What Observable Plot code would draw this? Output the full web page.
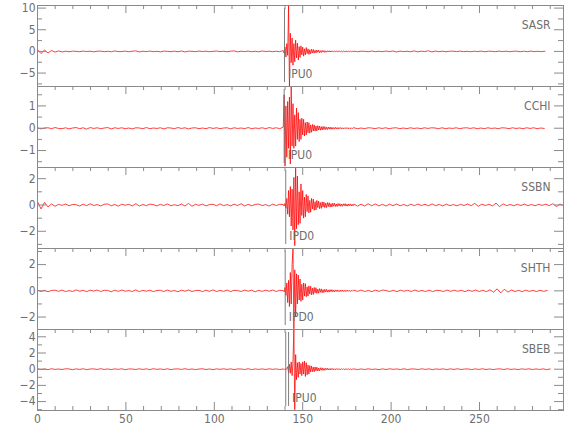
<!DOCTYPE html>
<html>
<head>
<meta charset="utf-8">
<script src="https://cdn.jsdelivr.net/npm/d3@7"></script>
<script src="https://cdn.jsdelivr.net/npm/@observablehq/plot@0.6"></script>
<style>
  body { margin: 0; background: #fff; }
  #chart { position: relative; width: 580px; height: 440px; }
  #chart svg { position: absolute; left: 0; overflow: visible; }
</style>
</head>
<body>
<div id="chart"></div>
<script>
// ---- data ----
const stations = ["SASR", "CCHI", "SSBN", "SHTH", "SBEB"];
const pickLabels = ["IPU0", "IPU0", "IPD0", "IPD0", "IPU0"];
const markerTimes = [[139.7], [139.5], [140.4], [140.1], [140.4, 142.0]];
const traceEnds = [287, 286.6, 297.5, 288.3, 290];
const xDomain = [0, 297.5];
const xMajor = [0, 50, 100, 150, 200, 250];
const xMinor = [10, 20, 30, 40, 60, 70, 80, 90, 110, 120, 130, 140, 160, 170, 180, 190, 210, 220, 230, 240, 260, 270, 280, 290];
const yDomains = [[-8.1, 10.6], [-1.76, 1.87], [-3.31, 2.85], [-2.95, 3.23], [-5.1, 4.9]];
const yMajor = [[-5, 0, 5, 10], [-1, 0, 1], [-2, 0, 2], [-2, 0, 2], [-4, -2, 0, 2, 4]];
const yMinor = [[-7.5, -2.5, 2.5, 7.5], [-1.5, -0.5, 0.5, 1.5], [-3, -1, 1], [-1, 1, 3], [-5, -3, -1, 1, 3]];
const eventStart = 139;
const eventStep = 0.5;

// pre-event noise (evenly sampled from 0 to event start)
const sasrPre = [0.4,-0.5,0.3,-0.35,0.2,-0.15,0.1,-0.12,0.05,-0.08,0.06,0.02,-0.07,0.08,-0.03,0.05,-0.09,0.04,0.07,-0.06,0.03,-0.08,0.1,-0.04,-0.02,0.06,-0.07,0.05,0.12,-0.1,0.04,-0.05,0.08,-0.06,0.02,-0.09,0.07,0.03,-0.05,0.06,-0.08,0.1,-0.12,0.05,0.03,-0.06,0.08,-0.04,0.06,-0.07,0.02,0.09,-0.05,0.04,-0.08,0.06,0.12,-0.1,0.05,-0.04,0.07,-0.06,0.03,-0.08,0.09,-0.03,0.05,-0.07,0.04,-0.05];
const cchiPre = [0.02,-0.03,0.01,0.02,-0.02,0.03,-0.01,-0.02,0.02,-0.03,0.01,0.03,-0.02,0.02,-0.04,0.03,-0.01,0.02,-0.02,0.01,0.03,-0.03,0.02,-0.01,0.02,-0.02,0.01,-0.03,0.02,0.01,-0.02,0.03,-0.02,0.01,-0.01,0.02,-0.03,0.02,0.01,-0.02,0.03,-0.01,0.02,-0.03,0.01,0.02,-0.02,0.01,-0.02,0.03,-0.01,0.02,-0.02,0.01,0.02,-0.03,0.02,-0.01,0.01,-0.02,0.03,-0.02,0.01,-0.01,0.02,-0.02,0.03,-0.01,0.02,-0.02];
const ssbnPre = [0.25,-0.3,0.2,-0.15,0.08,-0.1,0.05,-0.03,0.07,-0.06,0.04,0.02,-0.08,0.06,-0.05,0.09,-0.04,0.03,-0.07,0.05,0.08,-0.06,0.04,-0.09,0.06,-0.02,0.05,-0.07,0.1,-0.08,0.04,-0.05,0.06,0.03,-0.07,0.05,-0.04,0.08,-0.06,0.02,-0.05,0.07,-0.08,0.12,-0.1,0.05,-0.03,0.06,-0.07,0.04,0.05,-0.06,0.08,-0.05,0.03,-0.07,0.06,-0.04,0.09,-0.08,0.05,-0.06,0.04,0.07,-0.05,0.03,-0.08,0.06,-0.04,0.05];
const shthPre = [0.06,-0.05,0.04,-0.07,0.03,0.05,-0.04,0.06,-0.06,0.02,-0.05,0.07,-0.03,0.04,-0.06,0.05,-0.02,0.06,-0.05,0.04,0.03,-0.07,0.05,-0.04,0.06,-0.03,0.02,-0.05,0.07,-0.06,0.04,-0.03,0.05,-0.06,0.03,0.04,-0.05,0.06,-0.04,0.03,-0.07,0.05,-0.03,0.06,-0.05,0.02,0.04,-0.06,0.05,-0.04,0.07,-0.05,0.03,-0.04,0.06,-0.06,0.04,0.02,-0.05,0.06,-0.03,0.05,-0.07,0.04,-0.04,0.05,-0.03,0.06,-0.05,0.04];
const sbebPre = [0.05,-0.04,0.03,-0.05,0.06,-0.03,0.02,-0.04,0.05,0.03,-0.06,0.04,-0.03,0.05,-0.05,0.02,0.04,-0.04,0.06,-0.03,0.03,-0.05,0.04,-0.02,0.05,-0.06,0.03,0.02,-0.04,0.05,-0.03,0.04,-0.05,0.06,-0.02,0.03,-0.04,0.05,-0.05,0.02,0.04,-0.03,0.06,-0.04,0.03,-0.05,0.02,0.05,-0.04,0.03,-0.06,0.04,-0.02,0.05,-0.03,0.04,-0.05,0.03,0.02,-0.04,0.06,-0.05,0.03,-0.03,0.04,-0.04,0.05,-0.02,0.03,-0.04];

// event (0.5 s samples from 139 s)
const sasrEvent = [0.2,-0.4,1.0,-1.3,1.8,-0.9,10.5,-8.0,4.2,-2.6,3.1,-3.2,1.8,-2.4,2.6,-1.5,1.9,-2.0,1.1,-1.4,1.3,-0.8,1.0,-1.1,0.6,-0.8,0.9,-0.5,0.6,-0.7,0.4,-0.55,0.5,-0.35,0.45,-0.4,0.25,-0.35,0.32,-0.2,0.28,-0.3,0.18,-0.25,0.22,-0.15,0.2,-0.22,0.12,-0.18,0.16,-0.12,0.15,-0.14,0.1,-0.13,0.12,-0.08,0.11,-0.1,0.08,-0.11,0.09,-0.06,0.1,-0.08,0.07,-0.09,0.08,-0.06,0.07,-0.08,0.06,-0.07,0.08,-0.05,0.06,-0.07,0.05,-0.06];
const cchiEvent = [0.05,1.5,-1.7,1.0,-1.3,1.2,-0.9,1.4,-1.6,1.85,-0.8,1.1,-0.9,0.6,-0.8,0.9,-0.5,0.7,-0.6,0.4,-0.5,0.45,-0.3,0.4,-0.35,0.25,-0.3,0.28,-0.2,0.25,-0.22,0.15,-0.18,0.17,-0.12,0.15,-0.13,0.1,-0.12,0.11,-0.08,0.1,-0.09,0.07,-0.08,0.08,-0.06,0.07,-0.06,0.05,-0.06,0.05,-0.04,0.05,-0.05,0.04,-0.04,0.03,-0.04,0.04,-0.03,0.03,-0.04,0.03,-0.02,0.03,-0.03,0.02,-0.03,0.02,-0.02,0.03,-0.02,0.02,-0.03,0.02,-0.02,0.02,-0.02,0.02];
const ssbnEvent = [0.03,-0.08,0.12,-0.25,0.5,-0.7,1.1,-0.9,1.4,-1.6,1.2,-1.9,2.1,-3.1,2.8,-1.8,2.2,-1.5,1.0,-1.4,1.6,-0.8,1.1,-1.0,0.6,-0.9,0.8,-0.5,0.7,-0.6,0.35,-0.55,0.5,-0.3,0.45,-0.4,0.25,-0.38,0.35,-0.2,0.3,-0.28,0.18,-0.26,0.24,-0.15,0.22,-0.2,0.14,-0.2,0.18,-0.12,0.17,-0.16,0.1,-0.15,0.14,-0.09,0.13,-0.12,0.08,-0.12,0.11,-0.07,0.1,-0.1,0.07,-0.1,0.09,-0.06,0.1,-0.08,0.06,-0.09,0.08,-0.05,0.08,-0.07,0.05,-0.07];
const shthEvent = [0.03,-0.08,0.25,-0.35,0.6,-0.9,0.8,-1.2,1.4,-1.0,2.0,3.2,-2.9,1.6,-2.0,1.3,-1.0,1.2,-0.7,0.9,-0.8,0.5,-0.7,0.6,-0.4,0.55,-0.45,0.3,-0.4,0.38,-0.25,0.35,-0.3,0.2,-0.28,0.26,-0.16,0.24,-0.2,0.13,-0.18,0.17,-0.11,0.15,-0.14,0.09,-0.13,0.12,-0.08,0.11,-0.1,0.07,-0.1,0.09,-0.06,0.09,-0.08,0.05,-0.08,0.07,-0.05,0.07,-0.06,0.04,-0.06,0.06,-0.04,0.06,-0.05,0.04,-0.05,0.05,-0.04,0.05,-0.04,0.03,-0.05,0.04,-0.03,0.04];
const sbebEvent = [0.03,-0.04,0.03,-0.03,0.05,0.3,-0.45,0.6,-0.5,0.9,-0.8,1.0,4.9,-5.0,1.8,-1.3,0.8,-1.0,0.9,-0.6,0.7,-0.8,0.9,-0.6,1.0,-0.9,0.8,-0.7,0.5,-0.6,0.45,-0.35,0.4,-0.3,0.25,-0.32,0.28,-0.2,0.25,-0.22,0.15,-0.2,0.18,-0.12,0.17,-0.15,0.1,-0.14,0.12,-0.09,0.12,-0.1,0.07,-0.1,0.09,-0.06,0.09,-0.08,0.05,-0.08,0.07,-0.05,0.07,-0.06,0.04,-0.06,0.06,-0.04,0.06,-0.05,0.04,-0.05,0.05,-0.04,0.05,-0.04,0.03,-0.05,0.04,-0.03];

// late coda / post-event noise (evenly sampled to trace end)
const sasrCoda = [0.06,-0.08,0.05,0.03,-0.07,0.09,-0.05,0.04,-0.06,0.08,-0.04,0.1,-0.12,0.07,-0.05,0.03,-0.08,0.12,-0.09,0.06,-0.04,0.15,-0.12,0.08,-0.06,0.05,-0.07,0.04,0.06,-0.05,0.08,-0.06,0.03,-0.07,0.05,-0.04,0.06,-0.08,0.05,0.02,-0.06,0.07,-0.04,0.05,-0.06,0.03,0.05,-0.07,0.04,-0.05,0.06,-0.04,0.03,-0.05,0.04];
const cchiCoda = [0.02,-0.02,0.01,-0.02,0.02,0.01,-0.02,0.02,-0.01,0.02,-0.02,0.01,0.02,-0.02,0.01,-0.02,0.02,-0.01,0.01,-0.02,0.02,-0.01,0.02,0.01,-0.02,0.02,-0.02,0.01,-0.01,0.02,-0.02,0.01,0.02,-0.01,0.02,-0.02,0.01,-0.02,0.02,-0.01,0.01,-0.02,0.02,0.01,-0.02,0.02,-0.01,0.01,-0.02,0.02,-0.01,0.02,-0.02,0.01,-0.01];
const ssbnCoda = [0.07,-0.09,0.06,-0.08,0.09,-0.06,0.08,-0.07,0.05,-0.08,0.06,-0.05,0.07,-0.06,0.04,-0.07,0.06,-0.05,0.07,-0.04,0.05,-0.06,0.08,-0.05,0.04,-0.07,0.06,-0.05,0.03,-0.06,0.05,-0.04,0.07,-0.05,0.12,-0.1,0.06,-0.04,0.05,-0.07,0.14,-0.12,0.08,-0.05,0.04,-0.06,0.05,-0.04,0.06,-0.05,0.04,-0.06,0.05,-0.03,0.06,-0.05,0.1,-0.12,0.07,-0.05];
const shthCoda = [0.05,-0.04,0.06,-0.05,0.03,-0.06,0.05,-0.04,0.06,0.02,-0.05,0.04,-0.06,0.05,-0.03,0.04,-0.05,0.06,-0.04,0.03,-0.05,0.05,-0.06,0.04,0.02,-0.05,0.06,-0.04,0.05,-0.03,0.04,-0.06,0.05,-0.04,0.06,-0.05,0.04,-0.06,0.08,-0.1,0.15,-0.16,0.12,-0.09,0.06,-0.05,0.04,-0.06,0.05,-0.04,0.03,-0.05,0.04,-0.04,0.03];
const sbebCoda = [0.04,-0.05,0.03,-0.04,0.05,-0.03,0.02,-0.05,0.04,-0.04,0.05,-0.02,0.03,-0.04,0.05,-0.05,0.03,0.02,-0.04,0.05,-0.03,0.04,-0.05,0.03,-0.02,0.04,-0.05,0.04,-0.03,0.05,-0.04,0.02,0.03,-0.05,0.04,-0.03,0.05,-0.04,0.03,-0.05,0.02,0.04,-0.04,0.05,-0.03,0.03,-0.05,0.04,-0.02,0.05,-0.04,0.03,-0.03,0.04,-0.05,0.03];

const preSets = [sasrPre, cchiPre, ssbnPre, shthPre, sbebPre];
const eventSets = [sasrEvent, cchiEvent, ssbnEvent, shthEvent, sbebEvent];
const codaSets = [sasrCoda, cchiCoda, ssbnCoda, shthCoda, sbebCoda];

// ---- layout ----
const W = 580, ML = 37, MR = 17, PANEL_H = 81, TOP = 5, BOTTOM_M = 30;
const plotW = W - ML - MR;
const axisGray = "#8a8a8a";
const textGray = "#6e6e6e";
const font = "'Liberation Sans Narrow', 'DejaVu Sans Condensed', 'Liberation Sans', sans-serif";

function buildTrace(pre, ev, coda, end) {
  const pts = [];
  pre.forEach((v, i) => pts.push({t: i * eventStart / pre.length, v}));
  ev.forEach((v, i) => pts.push({t: eventStart + i * eventStep, v}));
  const cs = eventStart + ev.length * eventStep;
  coda.forEach((v, i) => pts.push({t: cs + i * (end - cs) / (coda.length - 1), v}));
  return pts;
}

const chart = document.getElementById("chart");
stations.forEach((name, i) => {
  const isLast = i === stations.length - 1;
  const mb = isLast ? BOTTOM_M : 0;
  const trace = buildTrace(preSets[i], eventSets[i], codaSets[i], traceEnds[i]);
  const marks = [
    Plot.lineY(trace, {x: "t", y: "v", stroke: "#ff0000", strokeWidth: 0.75}),
    Plot.ruleX(markerTimes[i], {stroke: "#707070", strokeWidth: 0.9, insetTop: 3, insetBottom: 4}),
    Plot.text([pickLabels[i]], {x: () => markerTimes[i][markerTimes[i].length - 1], frameAnchor: "bottom", textAnchor: "start", lineAnchor: "bottom", dx: 3.5, dy: -9, fill: textGray, text: d => d}),
    Plot.text([name], {frameAnchor: "top-right", textAnchor: "end", lineAnchor: "top", dx: -13, dy: 15, fill: textGray, text: d => d}),
    Plot.frame({stroke: axisGray}),
    // x ticks along the top, pointing inward
    Plot.ruleX(xMajor, {stroke: axisGray, insetBottom: PANEL_H - 8}),
    Plot.ruleX(xMinor, {stroke: axisGray, insetBottom: PANEL_H - 4}),
    // y ticks on left and right, pointing inward
    Plot.ruleY(yMajor[i], {stroke: axisGray, insetRight: plotW - 9}),
    Plot.ruleY(yMinor[i], {stroke: axisGray, insetRight: plotW - 5}),
    Plot.ruleY(yMajor[i], {stroke: axisGray, insetLeft: plotW - 9}),
    Plot.ruleY(yMinor[i], {stroke: axisGray, insetLeft: plotW - 5}),
    Plot.axisY(yMajor[i], {anchor: "left", tickSize: 0, tickPadding: 2, label: null, fill: textGray})
  ];
  if (isLast) {
    marks.push(
      Plot.ruleX(xMajor, {stroke: axisGray, insetTop: PANEL_H - 8}),
      Plot.ruleX(xMinor, {stroke: axisGray, insetTop: PANEL_H - 4}),
      Plot.axisX(xMajor, {anchor: "bottom", tickSize: 0, tickPadding: 4, label: null, fill: textGray})
    );
  }
  const svg = Plot.plot({
    width: W,
    height: PANEL_H + mb,
    marginLeft: ML,
    marginRight: MR,
    marginTop: 0,
    marginBottom: mb,
    x: {domain: xDomain, ...(isLast ? {} : {axis: null})},
    y: {domain: yDomains[i]},
    style: {fontFamily: font, fontSize: "12px", color: textGray, background: "transparent", overflow: "visible"},
    marks
  });
  svg.style.top = (TOP + i * PANEL_H) + "px";
  chart.appendChild(svg);
});
</script>
</body>
</html>
